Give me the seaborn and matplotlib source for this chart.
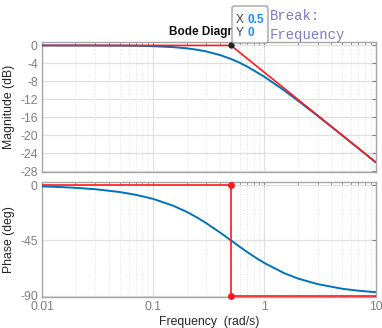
import numpy as np
import pandas as pd
import matplotlib
matplotlib.use("Agg")
import matplotlib.pyplot as plt
from matplotlib.patches import FancyBboxPatch
from matplotlib.ticker import LogLocator, NullFormatter, FixedLocator
import seaborn as sns

# ---- data ----
freq = [0.01, 0.015, 0.02, 0.03, 0.05, 0.07, 0.1, 0.15, 0.2, 0.25, 0.3, 0.4, 0.5,
        0.6, 0.7, 0.85, 1.0, 1.5, 2.0, 3.0, 5.0, 7.0, 10.0]
mag_db = [0.0, -0.004, -0.007, -0.016, -0.04, -0.08, -0.17, -0.37, -0.64, -0.97,
          -1.34, -2.15, -3.01, -3.87, -4.71, -5.95, -6.99, -10.0, -12.3, -15.68,
          -20.04, -22.94, -26.03]
phase_deg = [-1.1, -1.7, -2.3, -3.4, -5.7, -8.0, -11.3, -16.7, -21.8, -26.6, -31.0,
             -38.7, -45.0, -50.2, -54.5, -59.5, -63.4, -71.6, -76.0, -80.5, -84.3,
             -85.9, -87.1]
asym_mag_freq = [0.01, 0.5, 10.0]
asym_mag = [0.0, 0.0, -26.02]
asym_ph_freq = [0.01, 0.5, 0.5, 10.0]
asym_ph = [0.0, 0.0, -90.0, -90.0]
break_freq = 0.5
mag_ticks = [0, -4, -8, -12, -16, -20, -24, -28]
phase_ticks = [0, -45, -90]
freq_ticks = [0.01, 0.1, 1, 10]
freq_labels = ["0.01", "0.1", "1", "10"]

sns.set_theme(style="white")
plt.rcParams['font.family'] = ['Liberation Sans', 'DejaVu Sans']

BLUE = "#0072BD"
RED = "#FF1A1A"
GRID = "#e0e0e0"
SPINE = "#a6a6a6"
TICKC = "#7f7f7f"

W, H = 382, 328
fig = plt.figure(figsize=(W / 100, H / 100), dpi=100)

def frac_rect(x0, y0, x1, y1):
    return [x0 / W, 1 - y1 / H, (x1 - x0) / W, (y1 - y0) / H]

ax1 = fig.add_axes(frac_rect(42, 42.3, 375.7, 172))
ax2 = fig.add_axes(frac_rect(42, 182.3, 375.7, 297))

df = pd.DataFrame({"freq": freq, "mag": mag_db, "phase": phase_deg})
dam = pd.DataFrame({"freq": asym_mag_freq, "mag": asym_mag})
dap = pd.DataFrame({"freq": asym_ph_freq, "phase": asym_ph})

for ax in (ax1, ax2):
    ax.set_xscale("log")
    ax.set_xlim(0.01, 10)

sns.lineplot(data=df, x="freq", y="mag", ax=ax1, color=BLUE, lw=1.4,
             sort=False, estimator=None, zorder=3)
sns.lineplot(data=dam, x="freq", y="mag", ax=ax1, color=RED, lw=1.2,
             sort=False, estimator=None, zorder=4)
ax1.plot([break_freq], [0], 'o', ms=3.5, color="#222222", zorder=6, clip_on=False)

sns.lineplot(data=df, x="freq", y="phase", ax=ax2, color=BLUE, lw=1.4,
             sort=False, estimator=None, zorder=3)
sns.lineplot(data=dap, x="freq", y="phase", ax=ax2, color=RED, lw=1.2,
             sort=False, estimator=None, zorder=4)
ax2.plot([break_freq, break_freq], [0, -90], 'o', ms=4, color=RED, zorder=6, clip_on=False)

ax1.set_ylim(-28.2, 0.7)
ax2.set_ylim(-91, 2.2)
ax1.yaxis.set_major_locator(FixedLocator(mag_ticks))
ax2.yaxis.set_major_locator(FixedLocator(phase_ticks))
ax1.set_yticklabels([str(t) for t in mag_ticks])
ax2.set_yticklabels([str(t) for t in phase_ticks])

for ax in (ax1, ax2):
    ax.xaxis.set_major_locator(FixedLocator(freq_ticks))
    ax.xaxis.set_minor_locator(LogLocator(base=10, subs=np.arange(2, 10)))
    ax.xaxis.set_minor_formatter(NullFormatter())
    ax.grid(which="major", color=GRID, lw=0.9, ls="-", zorder=0)
    ax.grid(which="minor", axis="x", color="#d8d8d8", lw=0.6, ls=(0, (1, 2)), zorder=0)
    ax.set_axisbelow(True)
    for s in ax.spines.values():
        s.set_color(SPINE)
        s.set_linewidth(1.0)
        s.set_visible(True)
    ax.tick_params(which="both", direction="in", top=True, right=True,
                   color=TICKC, labelcolor="#808080", labelsize=8.8)
    ax.tick_params(which="major", length=3, width=0.8, pad=3)
    ax.tick_params(which="minor", length=2, width=0.6)
    ax.set_xlabel("")
    ax.set_ylabel("")

ax1.set_xticklabels([])
ax2.set_xticklabels(freq_labels)
ax1.set_ylabel("Magnitude (dB)", fontsize=8.8, color="#262626", labelpad=4)
ax2.set_ylabel("Phase (deg)", fontsize=8.8, color="#262626", labelpad=4)
ax2.set_xlabel("Frequency  (rad/s)", fontsize=8.8, color="#262626", labelpad=2)
ax1.set_title("Bode Diagram", fontsize=8.5, fontweight="bold", color="#111111", pad=5)

# data tip box
box = FancyBboxPatch((232 / W, 1 - 43 / H), 36 / W, 37 / H,
                     boxstyle="round,pad=0,rounding_size=0.006",
                     transform=fig.transFigure, facecolor="white",
                     edgecolor="#9a9a9a", lw=0.9, zorder=10)
fig.patches.append(box)
fig.text(236 / W, 1 - 20 / H, "X", fontsize=8.5, color="#404040", va="center", zorder=11)
fig.text(248 / W, 1 - 20 / H, "0.5", fontsize=8.5, color="#1a8cff", fontweight="bold",
         va="center", zorder=11)
fig.text(236 / W, 1 - 33 / H, "Y", fontsize=8.5, color="#404040", va="center", zorder=11)
fig.text(248 / W, 1 - 33 / H, "0", fontsize=8.5, color="#1a8cff", fontweight="bold",
         va="center", zorder=11)

fig.text(270 / W, 1 - 16 / H, "Break:", family="Liberation Mono", fontsize=10,
         color="#7a7acc", va="center", zorder=11)
fig.text(270 / W, 1 - 35 / H, "Frequency", family="Liberation Mono", fontsize=10,
         color="#7a7acc", va="center", zorder=11)

fig.savefig("out.png", dpi=100)
